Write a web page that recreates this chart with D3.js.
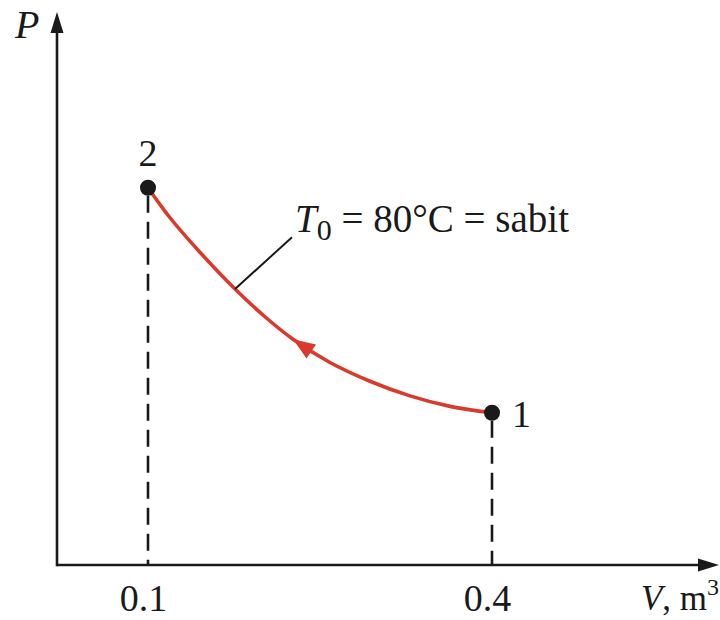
<!DOCTYPE html>
<html>
<head>
<meta charset="utf-8">
<script src="https://cdn.jsdelivr.net/npm/d3@7/dist/d3.min.js"></script>
<style>
  html, body { margin: 0; padding: 0; background: #fff; }
  svg { display: block; }
  text { font-family: "Liberation Serif", "Times New Roman", serif; fill: #1a1a1a; }
</style>
</head>
<body>
<svg id="chart" width="720" height="620"></svg>
<script>
// ---- data (P in arbitrary units) ----
const curveV = [0.1, 0.1192, 0.1453, 0.1759, 0.2020, 0.2265, 0.2587, 0.2936, 0.3285, 0.3634, 0.4];
const curveP = [5.03, 4.63, 4.17, 3.68, 3.31, 3.01, 2.70, 2.45, 2.255, 2.115, 2.03];
const stateNames = ["2", "1"];
const stateV = [0.1, 0.4];
const stateP = [5.03, 2.03];
const tickValues = [0.1, 0.4];
const tickLabels = ["0.1", "0.4"];
const leaderV = [0.1759, 0.2256];
const leaderP = [3.68, 4.37];
const arrowAtV = 0.2265;

const svg = d3.select("#chart");
const ink = "#1a1a1a";
const red = "#d93a2b";

// scales
const x = d3.scaleLinear().domain([0.1, 0.4]).range([148, 492]);
const y = d3.scaleLinear().domain([0, 7]).range([565, 40]);

const axisY = 565, axisX = 57;

// x-axis labels through d3 axis
const xAxis = d3.axisBottom(x).tickValues(tickValues).tickSize(0)
  .tickFormat((d, i) => tickLabels[i]);
const gx = svg.append("g").attr("transform", `translate(0,${axisY})`).call(xAxis);
gx.select(".domain").remove();
gx.selectAll("text")
  .attr("dy", null).attr("y", 46)
  .attr("dx", -5)
  .style("font-family", '"Liberation Serif", serif')
  .style("font-size", "38px")
  .attr("fill", ink);

// dashed drop lines
svg.selectAll("line.drop").data(stateV).enter().append("line")
  .attr("class", "drop")
  .attr("x1", d => x(d)).attr("x2", d => x(d))
  .attr("y1", (d, i) => y(stateP[i])).attr("y2", axisY)
  .attr("stroke", ink).attr("stroke-width", 2.6)
  .attr("stroke-dasharray", "17,9")
  .attr("stroke-dashoffset", -8);

// axes lines with arrows
svg.append("line").attr("x1", axisX).attr("y1", axisY).attr("x2", 700).attr("y2", axisY)
  .attr("stroke", ink).attr("stroke-width", 2.6);
svg.append("path").attr("d", `M719,${axisY} L698,${axisY - 6.5} L698,${axisY + 6.5} Z`).attr("fill", ink);
svg.append("line").attr("x1", axisX).attr("y1", axisY + 1.3).attr("x2", axisX).attr("y2", 30)
  .attr("stroke", ink).attr("stroke-width", 2.6);
svg.append("path").attr("d", `M${axisX},12 L${axisX - 6.5},33 L${axisX + 6.5},33 Z`).attr("fill", ink);

// axis titles
svg.append("text").attr("x", 15).attr("y", 38)
  .style("font-size", "40px").style("font-style", "italic").text("P");
const vt = svg.append("text").attr("x", 719).attr("y", 610).attr("text-anchor", "end")
  .style("font-size", "35px");
vt.append("tspan").style("font-style", "italic").text("V");
vt.append("tspan").text(", m");
vt.append("tspan").attr("dy", -15).style("font-size", "24px").text("3");

// curve
const pts = curveV.map((v, i) => [x(v), y(curveP[i])]);
const line = d3.line().curve(d3.curveCatmullRom.alpha(0.5));
const path = svg.append("path").attr("d", line(pts))
  .attr("fill", "none").attr("stroke", red).attr("stroke-width", 3.6)
  .attr("stroke-linecap", "round");

// arrowhead on curve (pointing toward state 2)
const node = path.node();
const total = node.getTotalLength();
let best = 0, bd = 1e9;
for (let l = 0; l <= total; l += 0.5) {
  const p = node.getPointAtLength(l);
  const dd = Math.abs(p.x - x(arrowAtV));
  if (dd < bd) { bd = dd; best = l; }
}
const tip = node.getPointAtLength(best);
const back = node.getPointAtLength(best + 20);
const ang = Math.atan2(tip.y - back.y, tip.x - back.x) * 180 / Math.PI;
svg.append("path").attr("d", "M0,0 L-22,-8.5 L-22,8.5 Z")
  .attr("fill", red)
  .attr("transform", `translate(${tip.x},${tip.y}) rotate(${ang})`);

// state points
svg.selectAll("circle.state").data(stateV).enter().append("circle")
  .attr("cx", d => x(d)).attr("cy", (d, i) => y(stateP[i])).attr("r", 8)
  .attr("fill", ink);
svg.append("text").attr("x", x(stateV[0])).attr("y", 166).attr("text-anchor", "middle")
  .style("font-size", "38px").text(stateNames[0]);
svg.append("text").attr("x", x(stateV[1]) + 20).attr("y", 427)
  .style("font-size", "38px").text(stateNames[1]);

// leader + annotation
svg.append("line")
  .attr("x1", x(leaderV[0])).attr("y1", y(leaderP[0]))
  .attr("x2", x(leaderV[1])).attr("y2", y(leaderP[1]))
  .attr("stroke", ink).attr("stroke-width", 2);
const ann = svg.append("text").attr("x", x(leaderV[1]) + 3).attr("y", 232)
  .style("font-size", "39px");
ann.append("tspan").style("font-style", "italic").text("T");
ann.append("tspan").attr("dy", 8).style("font-size", "30px").text("0");
ann.append("tspan").attr("dy", -8).text(" = 80°C = sabit");
</script>
</body>
</html>
